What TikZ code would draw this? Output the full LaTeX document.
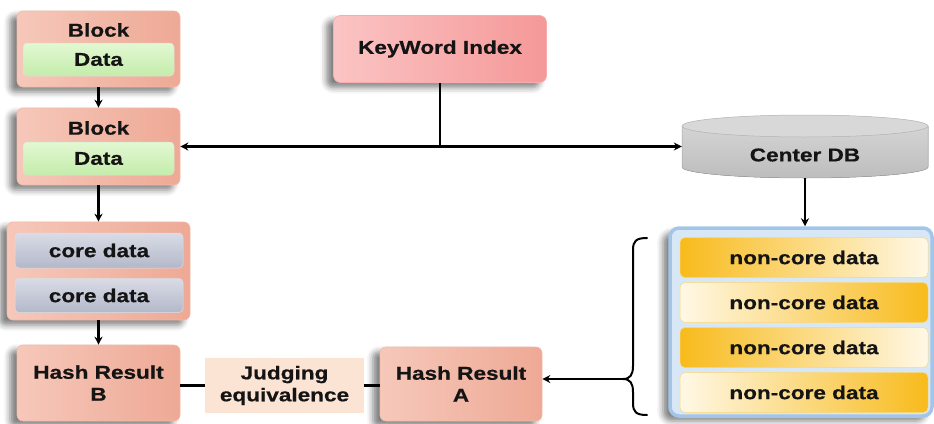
\documentclass[tikz,border=0pt]{standalone}
\usepackage{fontspec}
\newfontfamily\labelfont[FakeStretch=1.22, BoldFeatures={FakeBold=0.6}]{Liberation Sans}
\usetikzlibrary{arrows.meta,shadows.blur}

\definecolor{blkL}{HTML}{F6C8BA}
\definecolor{blkR}{HTML}{EEA995}
\definecolor{grnT}{HTML}{E2F8D2}
\definecolor{grnB}{HTML}{C4ECAB}
\definecolor{corT}{HTML}{D9DCE6}
\definecolor{corB}{HTML}{B3B8C9}
\definecolor{kwL}{HTML}{FBC4C4}
\definecolor{kwR}{HTML}{F59898}
\definecolor{judge}{HTML}{FCE4D5}
\definecolor{dbT}{HTML}{D4D4D4}
\definecolor{dbB}{HTML}{BDBDBD}
\definecolor{boxEdge}{HTML}{A3C6E8}
\definecolor{boxFill}{HTML}{D8E7F6}
\definecolor{orgD}{HTML}{F8BB1C}
\definecolor{orgL}{HTML}{FFF8E6}

\tikzset{
  txt/.style={font=\labelfont\bfseries\fontsize{18.5}{22}\selectfont, text=black!92, align=center, inner sep=0pt},
  shd/.style={blur shadow={shadow xshift=-7pt, shadow yshift=-5pt, shadow blur radius=6pt, shadow opacity=50}},
  outerbox/.style={shd, draw=blkR!80!white, line width=0.6pt, rounded corners=6pt, left color=blkL, right color=blkR, inner sep=0pt},
  greenbox/.style={txt, draw=grnB!80!black!40!white, line width=0.5pt, rounded corners=4pt, top color=grnT, bottom color=grnB, minimum width=151pt, minimum height=33pt},
  corebox/.style={txt, draw=corB!80!black!30!white, line width=0.5pt, rounded corners=4pt, top color=corT, bottom color=corB, minimum width=168pt},
  rowA/.style={txt, draw=orgD!60!white, line width=0.5pt, rounded corners=5pt, left color=orgD, right color=orgL, minimum width=248pt, minimum height=40pt},
  rowB/.style={txt, draw=orgD!60!white, line width=0.5pt, rounded corners=5pt, left color=orgL, right color=orgD, minimum width=248pt, minimum height=40pt},
  conn/.style={line width=2.2pt, black},
  arr/.style={conn, -{Stealth[length=8pt,width=8pt]}},
}

\begin{document}
\begin{tikzpicture}[x=1pt,y=-1pt]
\useasboundingbox (0,0) rectangle (934,423);

% left column: blocks
\node[outerbox, minimum width=163pt, minimum height=76pt] (b1) at (98.5,49) {};
\node[txt] (b1t) at (98.5,30) {Block};
\node[greenbox] (d1) at (98.5,59.5) {Data};

\node[outerbox, minimum width=163pt, minimum height=77pt] (b2) at (98.5,146.5) {};
\node[txt] (b2t) at (98.5,128) {Block};
\node[greenbox] (d2) at (98.5,158.5) {Data};

% core data group
\node[outerbox, minimum width=183pt, minimum height=98pt] (core) at (98.5,271) {};
\node[corebox, minimum height=35pt] (c1) at (99,250.5) {core data};
\node[corebox, minimum height=34pt] (c2) at (99,295.5) {core data};

% hash results and comparison
\node[outerbox, txt, minimum width=163pt, minimum height=76pt] (hb) at (98.5,383) {Hash Result\\B};
\node[txt, fill=judge, minimum width=159pt, minimum height=55pt] (jd) at (284.5,385.5) {Judging\\equivalence};
\node[outerbox, txt, minimum width=162pt, minimum height=74pt] (ha) at (461,384) {Hash Result\\A};

% keyword index
\node[shd, txt, draw=kwR!80!white, line width=0.6pt, rounded corners=7pt, left color=kwL, right color=kwR,
      minimum width=213pt, minimum height=67pt] (kw) at (440,49) {KeyWord Index};

% center database (cylinder)
\node[minimum width=246pt, minimum height=63pt, inner sep=0pt] (db) at (805,146.5) {};
\fill[top color=dbT, bottom color=dbB, draw=gray!70, line width=0.5pt]
  (682,126) -- (682,167) arc[start angle=180, end angle=360, x radius=123pt, y radius=11pt]
  -- (928,126) -- cycle;
\fill[fill=dbT!90!white, draw=gray!60, line width=0.5pt] (805,126) ellipse [x radius=123pt, y radius=11pt];
\node[txt] (dbt) at (805,155) {Center DB};

% non-core data container
\node[shd, draw=boxEdge, line width=3.5pt, rounded corners=9pt, fill=boxFill,
      minimum width=262pt, minimum height=188pt, inner sep=0pt] (nc) at (801,322) {};
\node[rowA] (n1) at (804,257.5) {non-core data};
\node[rowB] (n2) at (804,302.5) {non-core data};
\node[rowA] (n3) at (804,347.5) {non-core data};
\node[rowB] (n4) at (804,392.5) {non-core data};

% brace gathering the non-core rows
\coordinate (tip) at (623,379);
\draw[conn, line width=2pt, line cap=round, line join=round]
  (647,238) .. controls (636,238) and (633,241) .. (633,250)
  -- (633,366) .. controls (633,375) and (630,379) .. (tip)
  .. controls (630,379) and (633,383) .. (633,392)
  -- (633,403) .. controls (633,412) and (636,415) .. (647,415);

% connectors
\coordinate (j) at (kw.south |- b2.east);
\draw[arr] (b1.south) -- (b2.north);
\draw[arr] (b2.south) -- (core.north);
\draw[arr] (core.south) -- (hb.north);
\draw[conn] (kw.south) -- (j);
\draw[arr] (j) -- (b2.east);
\draw[arr] (j) -- (db.west |- j);
\draw[arr] (db.south) -- (db.south |- nc.north);
\draw[conn] (hb.east |- jd.west) -- (jd.west);
\draw[conn] (jd.east) -- (ha.west |- jd.east);
\draw[arr] (tip) -- (ha.east |- tip);
\end{tikzpicture}
\end{document}
